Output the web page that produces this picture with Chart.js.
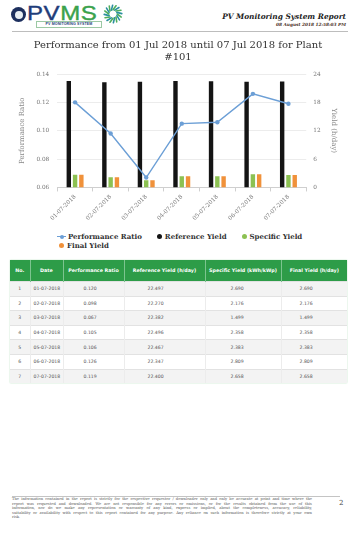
<!DOCTYPE html>
<html>
<head>
<meta charset="utf-8">
<title>PV Monitoring System Report</title>
<script src="https://cdn.jsdelivr.net/npm/chart.js@4.4.1/dist/chart.umd.min.js"></script>
<style>
  html, body { margin: 0; padding: 0; background: #fff; }
  #page { position: relative; width: 348px; height: 533px; overflow: hidden; background: #fff; }
  .abs { position: absolute; }
  #logoBadge { left: 11px; top: 7px; width: 15px; height: 15px; border-radius: 50%; background: #1d2f5e; }
  #logoBadge::after { content: ""; position: absolute; left: 3.5px; top: 3.5px; width: 8px; height: 8px; border-radius: 50%; background: #e8eef3; }
  #logoText { left: 27px; top: 2px; font-family: "Liberation Sans", Arial, sans-serif; font-size: 20px; line-height: 22px; letter-spacing: 0.5px; transform: scaleX(1.2); transform-origin: left top; -webkit-text-stroke: 0.4px; }
  #logoText .pv { color: #1f3d7a; }
  #logoText .ms { color: #3ba24c; }
  #logoSub { left: 36px; top: 21px; width: 64px; height: 5px; border: 0.5px solid #9cc9a4; font-family: "Liberation Sans", Arial, sans-serif; font-weight: bold; font-size: 3.6px; line-height: 5px; color: #1f3d7a; text-align: center; letter-spacing: 0.1px; }
  #logoSun { left: 103px; top: 4px; }
  #reportTitle { right: 2px; top: 12px; font-family: "DejaVu Serif", serif; font-weight: bold; font-style: italic; font-size: 7.4px; color: #222; white-space: nowrap; }
  #reportDate { right: 2px; top: 22px; font-family: "DejaVu Serif", serif; font-weight: bold; font-style: italic; font-size: 4.3px; color: #4a3026; white-space: nowrap; }
  #headRule { left: 12px; top: 31px; width: 336px; height: 0; border-top: 1px solid #bdbdbd; }
  #chartBox { left: 0; top: 30px; }
  #legend { left: 56px; top: 232px; width: 292px; font-family: "DejaVu Serif", serif; font-weight: bold; font-size: 7px; color: #333; display: flex; flex-wrap: wrap; }
  #legend .item { display: flex; align-items: center; height: 9px; margin-right: 12px; white-space: nowrap; }
  #legend .dot { width: 5px; height: 5px; border-radius: 50%; margin-right: 3px; margin-left: 3px; }
  #legend .lineIcon { position: relative; width: 9px; height: 5px; margin-right: 2px; margin-left: 1px; }
  #legend .lineIcon .bar { position: absolute; left: 0; top: 2px; width: 9px; height: 1.3px; }
  #legend .lineIcon .pt { position: absolute; left: 2.5px; top: 0.5px; width: 4px; height: 4px; border-radius: 50%; }
  #tableWrap { left: 10px; top: 260px; width: 337px; }
  table { border-collapse: collapse; width: 337px; table-layout: fixed; font-family: "DejaVu Sans", sans-serif; box-shadow: 0 0 1.5px #b8e0bf; }
  th { background: #2d9c48; color: #fff; font-weight: bold; font-size: 4.8px; height: 21px; padding: 0; text-align: center; border-left: 1px solid #7cc48f; }
  th:first-child { border-left: none; }
  td { font-size: 4.6px; color: #555; height: 13.6px; padding: 0; border-top: 1px solid #e2e2e2; border-left: 1px solid #ececec; text-align: left; }
  td:first-child { border-left: none; text-align: center; }
  tr.odd td { background: #f3f3f3; }
  #footRule { left: 12px; top: 496px; width: 328px; height: 0; border-top: 1px solid #c4c4c4; }
  #footText { left: 12px; top: 497px; width: 300px; font-family: "DejaVu Serif", serif; font-size: 3.7px; line-height: 4.5px; color: #555; }
  #footText div { white-space: nowrap; text-align: justify; text-align-last: justify; height: 4.5px; }
  #footText div.last { text-align-last: left; }
  #pageNo { left: 339px; top: 499px; font-family: "DejaVu Serif", serif; font-size: 7px; color: #444; }
</style>
</head>
<body>
<div id="page">
  <div id="logoBadge" class="abs"></div>
  <div id="logoText" class="abs"><span class="pv">PV</span><span class="ms">MS</span></div>
  <div id="logoSub" class="abs">PV MONITORING SYSTEM</div>
  <svg id="logoSun" class="abs" width="20" height="20" viewBox="0 0 20 20"></svg>
  <div id="reportTitle" class="abs">PV Monitoring System Report</div>
  <div id="reportDate" class="abs">08 August 2018 12:58:03 PM</div>
  <div id="headRule" class="abs"></div>

  <div id="chartBox" class="abs"><canvas id="perfChart" width="348" height="194"></canvas></div>
  <div id="legend" class="abs"></div>

  <div id="tableWrap" class="abs">
    <table id="perfTable">
      <colgroup>
        <col style="width:20px"><col style="width:33px"><col style="width:61px">
        <col style="width:81px"><col style="width:76px"><col style="width:66px">
      </colgroup>
      <thead><tr>
        <th>No.</th><th>Date</th><th>Performance Ratio</th>
        <th>Reference Yield (h/day)</th><th>Specific Yield (kWh/kWp)</th><th>Final Yield (h/day)</th>
      </tr></thead>
      <tbody></tbody>
    </table>
  </div>

  <div id="footRule" class="abs"></div>
  <div id="footText" class="abs">
    <div>The information contained in the report is strictly for the respective requestor / downloader only and only be accurate at point and time where the</div>
    <div>report was requested and downloaded. We are not responsible for any errors or omissions, or for the results obtained from the use of this</div>
    <div>information, nor do we make any representation or warranty of any kind, express or implied, about the completeness, accuracy, reliability,</div>
    <div>suitability or availability with respect to this report contained for any purpose. Any reliance on such information is therefore strictly at your own</div>
    <div class="last">risk.</div>
  </div>
  <div id="pageNo" class="abs">2</div>
</div>

<script>
// Daily plant figures, 01-07 Jul 2018
const dates = ['01-07-2018', '02-07-2018', '03-07-2018', '04-07-2018', '05-07-2018', '06-07-2018', '07-07-2018'];
const performanceRatio = [0.120, 0.098, 0.067, 0.105, 0.106, 0.126, 0.119];
const referenceYield = [22.497, 22.270, 22.382, 22.496, 22.467, 22.347, 22.400];
const specificYield = [2.690, 2.176, 1.499, 2.358, 2.383, 2.809, 2.658];
const finalYield = [2.690, 2.176, 1.499, 2.358, 2.383, 2.809, 2.658];

// Axis ranges
const ratioAxis = { min: 0.06, max: 0.14, step: 0.02 };
const yieldAxis = { min: 0, max: 24, step: 6 };

const colors = {
  ratio: '#6c9fd6',
  reference: '#141414',
  specific: '#8cc152',
  final: '#f0913a'
};

// Sun/gear mark next to the logo
(function drawSun() {
  const svg = document.getElementById('logoSun');
  const ns = 'http://www.w3.org/2000/svg';
  for (let i = 0; i < 16; i++) {
    const a = (i / 16) * Math.PI * 2;
    const l = document.createElementNS(ns, 'line');
    l.setAttribute('x1', 10 + Math.cos(a) * 4.2);
    l.setAttribute('y1', 10 + Math.sin(a) * 4.2);
    l.setAttribute('x2', 10 + Math.cos(a + 0.35) * 8.8);
    l.setAttribute('y2', 10 + Math.sin(a + 0.35) * 8.8);
    l.setAttribute('stroke', i % 2 ? '#2b8fa0' : '#4fae5a');
    l.setAttribute('stroke-width', '1.6');
    l.setAttribute('stroke-linecap', 'round');
    svg.appendChild(l);
  }
})();

const serif = '"DejaVu Serif", serif';

const chart = new Chart(document.getElementById('perfChart'), {
  type: 'bar',
  data: {
    labels: dates,
    datasets: [
      {
        type: 'line', label: 'Performance Ratio', data: performanceRatio, yAxisID: 'yRatio',
        borderColor: colors.ratio, backgroundColor: colors.ratio, borderWidth: 1.4,
        pointRadius: 2.2, pointBackgroundColor: colors.ratio, pointBorderWidth: 0,
        tension: 0, order: 0
      },
      { label: 'Reference Yield', data: referenceYield, yAxisID: 'yYield', backgroundColor: colors.reference, order: 1 },
      { label: 'Specific Yield', data: specificYield, yAxisID: 'yYield', backgroundColor: colors.specific, order: 1 },
      { label: 'Final Yield', data: finalYield, yAxisID: 'yYield', backgroundColor: colors.final, order: 1 }
    ]
  },
  options: {
    responsive: false,
    animation: false,
    devicePixelRatio: 1,
    datasets: { bar: { categoryPercentage: 0.53, barPercentage: 0.7 } },
    layout: { padding: { left: 16, right: 8, top: 0, bottom: 0 } },
    plugins: {
      legend: { display: false },
      tooltip: { enabled: false },
      title: {
        display: true,
        text: ['Performance from 01 Jul 2018 until 07 Jul 2018 for Plant', '#101'],
        color: '#333',
        font: { family: serif, size: 10, weight: 'normal', lineHeight: 1.2 },
        padding: { top: 9, bottom: 11 }
      }
    },
    scales: {
      x: {
        grid: { offset: true, drawOnChartArea: false, tickLength: 4, color: '#cfcfcf' },
        border: { color: '#cfcfcf' },
        ticks: { minRotation: 45, maxRotation: 45, color: '#777', font: { family: serif, size: 5.8 }, padding: 2 }
      },
      yRatio: {
        position: 'left',
        min: ratioAxis.min, max: ratioAxis.max,
        ticks: { stepSize: ratioAxis.step, color: '#777', font: { family: serif, size: 5.8 }, padding: 8 },
        grid: { color: '#ececec', drawTicks: false },
        border: { display: false },
        title: { display: true, text: 'Performance Ratio', color: '#888', font: { family: serif, size: 7 }, padding: 2 }
      },
      yYield: {
        position: 'right',
        min: yieldAxis.min, max: yieldAxis.max,
        ticks: { stepSize: yieldAxis.step, color: '#777', font: { family: serif, size: 5.8 }, padding: 7 },
        grid: { display: false, drawTicks: false },
        border: { display: false },
        title: { display: true, text: 'Yield (h/day)', color: '#888', font: { family: serif, size: 7 }, padding: 2 }
      }
    }
  }
});

// Legend built from the chart's datasets
(function buildLegend() {
  const box = document.getElementById('legend');
  chart.data.datasets.forEach((ds) => {
    const item = document.createElement('div');
    item.className = 'item';
    let icon;
    if (ds.type === 'line') {
      icon = document.createElement('span');
      icon.className = 'lineIcon';
      icon.innerHTML = '<span class="bar" style="background:' + ds.borderColor + '"></span><span class="pt" style="background:' + ds.borderColor + '"></span>';
    } else {
      icon = document.createElement('span');
      icon.className = 'dot';
      icon.style.background = ds.backgroundColor;
    }
    item.appendChild(icon);
    const txt = document.createElement('span');
    txt.textContent = ds.label;
    item.appendChild(txt);
    box.appendChild(item);
  });
})();

// Data table
(function buildTable() {
  const body = document.querySelector('#perfTable tbody');
  const pads = [0, 3, 20, 23, 25, 18];
  dates.forEach((d, i) => {
    const tr = document.createElement('tr');
    if (i % 2 === 0) tr.className = 'odd';
    const cells = [String(i + 1), d, performanceRatio[i].toFixed(3), referenceYield[i].toFixed(3), specificYield[i].toFixed(3), finalYield[i].toFixed(3)];
    cells.forEach((c, j) => {
      const td = document.createElement('td');
      td.textContent = c;
      if (j > 0) td.style.paddingLeft = pads[j] + 'px';
      tr.appendChild(td);
    });
    body.appendChild(tr);
  });
})();
</script>
</body>
</html>
